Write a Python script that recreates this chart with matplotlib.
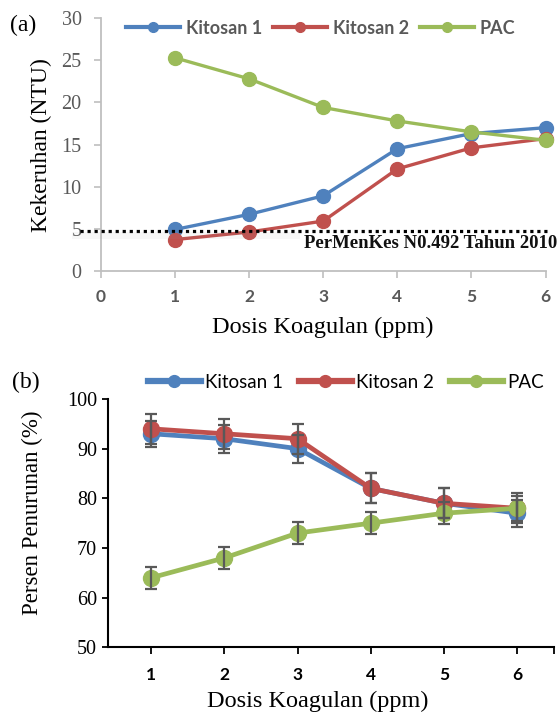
import matplotlib
matplotlib.use("Agg")
import matplotlib.pyplot as plt
from matplotlib.lines import Line2D
from matplotlib.patches import Rectangle

# ---------------- data ----------------
dosis = [1, 2, 3, 4, 5, 6]
series_names = ["Kitosan 1", "Kitosan 2", "PAC"]

# (a) turbidity (NTU)
kekeruhan_k1 = [4.9, 6.7, 8.9, 14.5, 16.3, 17.0]
kekeruhan_k2 = [3.7, 4.6, 5.9, 12.1, 14.6, 15.7]
kekeruhan_pac = [25.3, 22.8, 19.4, 17.8, 16.5, 15.5]
baku_mutu = 4.7
baku_mutu_label = "PerMenKes N0.492 Tahun 2010"

# (b) percent reduction (%)
persen_k1 = [93, 92, 90, 82, 79, 77]
persen_k2 = [94, 93, 92, 82, 79, 78]
persen_pac = [64, 68, 73, 75, 77, 78]
err_k1 = [2.6, 2.8, 2.8, 3.0, 3.0, 2.7]
err_k2 = [3.0, 3.0, 3.0, 3.0, 3.0, 3.0]
err_pac = [2.2, 2.2, 2.2, 2.2, 2.2, 2.5]

a_yticks = [0, 5, 10, 15, 20, 25, 30]
a_xticks = [0, 1, 2, 3, 4, 5, 6]
b_yticks = [50, 60, 70, 80, 90, 100]

colors = ["#4F81BD", "#C0504D", "#9BBB59"]

W, H = 559, 713
SERIF = ["Liberation Serif", "DejaVu Serif"]
SANS = ["Lato", "DejaVu Sans"]

fig = plt.figure(figsize=(W / 100, H / 100), dpi=100)


def fx(px):
    return px / W


def fy(py):
    return 1 - py / H


# ---------------- panel (a) ----------------
axa = fig.add_axes([fx(101), fy(270.7), fx(545.5) - fx(101), fy(18.3) - fy(270.7)])
axa.set_xlim(0, 6)
axa.set_ylim(0, 30)
for s in ["top", "right"]:
    axa.spines[s].set_visible(False)
for s in ["left", "bottom"]:
    axa.spines[s].set_color("#BFBFBF")
    axa.spines[s].set_linewidth(1.3)

# faint shadow under the standard line
fig.patches.append(Rectangle((fx(72), fy(239)), fx(300) - fx(72), fy(232) - fy(239),
                             transform=fig.transFigure, color="#9a9a9a", alpha=0.08,
                             lw=0, zorder=0))

for vals, c in zip([kekeruhan_k1, kekeruhan_k2, kekeruhan_pac], colors):
    axa.plot(dosis, vals, color=c, lw=2.4, marker="o", ms=10, clip_on=False, zorder=3)

axa.plot([-0.283, 6.02], [baku_mutu, baku_mutu], color="black", lw=2.3,
         linestyle=(0, (1, 1.2)), clip_on=False, zorder=4)
axa.text(6.154, 3.29, baku_mutu_label, ha="right", va="center", fontsize=13.5,
         fontweight="bold", family=SERIF, color="#111111", clip_on=False)

axa.set_yticks(a_yticks)
axa.set_xticks(a_xticks)
axa.tick_params(axis="y", direction="out", length=5, width=1.2, color="#BFBFBF",
                labelsize=14.5, labelcolor="#595959", pad=9)
axa.tick_params(axis="x", direction="out", length=5, width=1.2, color="#BFBFBF",
                labelsize=12.5, labelcolor="#595959", pad=8)
for lab in axa.get_yticklabels():
    lab.set_family(SERIF)
for lab in axa.get_xticklabels():
    lab.set_family(SANS)
    lab.set_fontweight("bold")

axa.set_xlabel("Dosis Koagulan (ppm)", fontsize=17.5, family=SERIF, va="center")
axa.xaxis.set_label_coords((322.5 - 101) / 444.5, -(327 - 270.7) / 252.4)
axa.set_ylabel("Kekeruhan (NTU)", fontsize=17, family=SERIF, va="center")
axa.yaxis.set_label_coords(-(101 - 41) / 444.5, (270.7 - 145) / 252.4)

fig.text(fx(10), fy(25), "(a)", fontsize=17, family=SERIF, ha="left", va="center")

handles_a = [Line2D([], [], color=c, lw=3, marker="o", ms=7) for c in colors]
leg_a = fig.legend(handles_a, series_names, loc="center left",
                   bbox_to_anchor=(fx(126), fy(28)), ncol=3, frameon=False,
                   handlelength=3.0, handletextpad=0.3, columnspacing=0.62,
                   borderpad=0, borderaxespad=0,
                   prop={"family": SANS, "weight": "bold", "size": 13})
for t in leg_a.get_texts():
    t.set_color("#595959")

# ---------------- panel (b) ----------------
axb = fig.add_axes([fx(108), fy(647.3), fx(553.7) - fx(108), fy(399) - fy(647.3)])
axb.set_xlim(0.41, 6.5)
axb.set_ylim(50, 100)
for s in ["top", "right"]:
    axb.spines[s].set_visible(False)
for s in ["left", "bottom"]:
    axb.spines[s].set_color("black")
    axb.spines[s].set_linewidth(1.5)

for vals, errs, c in zip([persen_k1, persen_k2, persen_pac],
                         [err_k1, err_k2, err_pac], colors):
    axb.plot(dosis, vals, color=c, lw=3.4, marker="o", ms=11.5, zorder=3, clip_on=False)
    axb.errorbar(dosis, vals, yerr=errs, fmt="none", ecolor="#595959",
                 elinewidth=1.6, capsize=4.5, capthick=1.6, zorder=4)

axb.set_yticks(b_yticks)
axb.set_xticks(dosis)
axb.set_xticks([6.5], minor=True)
axb.tick_params(axis="y", direction="out", length=4, width=1.3, labelsize=14.5, pad=4)
axb.tick_params(axis="x", which="both", direction="out", length=5, width=1.3,
                labelsize=12.5, pad=9)
for lab in axb.get_yticklabels():
    lab.set_family(SERIF)
for lab in axb.get_xticklabels():
    lab.set_family(SANS)
    lab.set_fontweight("bold")

axb.set_xlabel("Dosis Koagulan (ppm)", fontsize=17.5, family=SERIF, va="center")
axb.xaxis.set_label_coords((318 - 108) / 445.7, -(701 - 647.3) / 248.3)
axb.set_ylabel("Persen Penurunan (%)", fontsize=16.5, family=SERIF, va="center")
axb.yaxis.set_label_coords(-(108 - 32) / 445.7, (647.3 - 512.5) / 248.3)

fig.text(fx(12), fy(382), "(b)", fontsize=17, family=SERIF, ha="left", va="center")

handles_b = [Line2D([], [], color=c, lw=4.5, marker="o", ms=8.5) for c in colors]
leg_b = fig.legend(handles_b, series_names, loc="center left",
                   bbox_to_anchor=(fx(148), fy(382)), ncol=3, frameon=False,
                   handlelength=2.8, handletextpad=0.25, columnspacing=0.85,
                   borderpad=0, borderaxespad=0,
                   prop={"family": SANS, "size": 13.5})

fig.savefig("out.png", dpi=100)
